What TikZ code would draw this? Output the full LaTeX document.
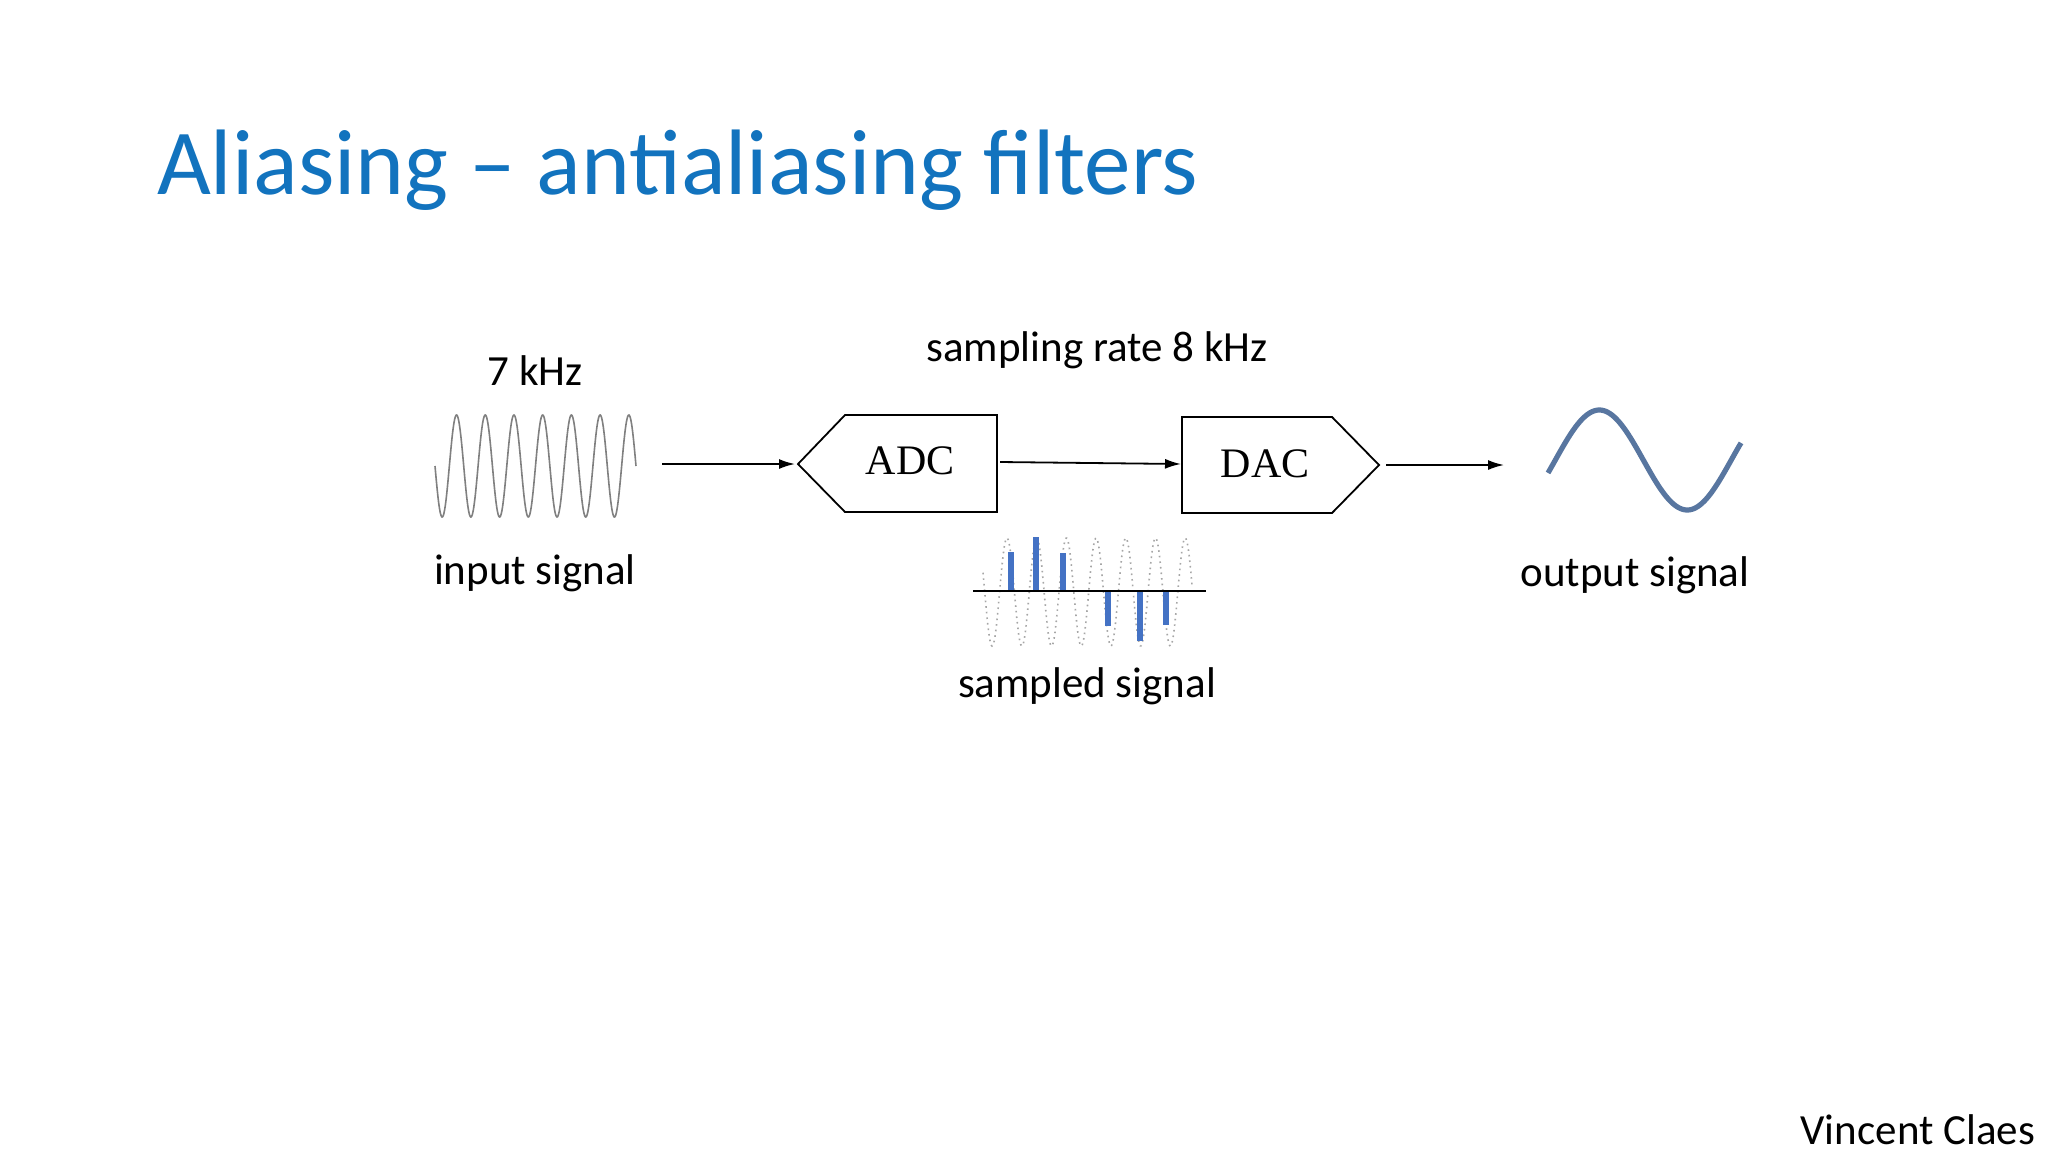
\documentclass[tikz,border=0pt]{standalone}
\usepackage{fontspec}
\setmainfont{Carlito}
\newfontfamily\serifb{Liberation Serif}
\usetikzlibrary{arrows.meta}
\definecolor{ttl}{RGB}{18,115,190}
\definecolor{barc}{RGB}{68,114,196}
\definecolor{outc}{RGB}{88,118,160}
\begin{document}
\begin{tikzpicture}[x=0.5pt,y=-0.5pt,
  lbl/.style={font=\fontsize{21.5}{24}\selectfont},
  blk/.style={draw,line width=0.9pt,font=\serifb\fontsize{21}{24}\selectfont},
  arr/.style={line width=0.9pt,-{Latex[length=8pt,width=5pt]}},
  bar/.style={fill=barc}]
\useasboundingbox (0,0) rectangle (2048,1152);
\fill[white] (0,0) rectangle (2048,1152);
\node[anchor=west,text=ttl,font=\fontsize{46.5}{50}\selectfont] (title) at (150,170) {Aliasing -- antialiasing filters};
\node[lbl] (f7) at (535,371) {7 kHz};
\node[lbl] (sr) at (1097,350) {sampling rate 8 kHz};
\node[lbl] (in) at (535,573) {input signal};
\node[lbl] (out) at (1635,575) {output signal};
\node[lbl] (smp) at (1087,686) {sampled signal};
\node[lbl,anchor=east] (auth) at (2042,1130) {Vincent Claes};
% input wave
\draw[gray,line width=0.8pt,domain=0:2520,samples=400,smooth] plot ({435+\x/2520*201},{466+51*sin(\x)});
\coordinate (inR) at (662,464);
% ADC
\draw[blk] (798,464) -- (845,415) -- (997,415) -- (997,512) -- (845,512) -- cycle;
\node[font=\serifb\fontsize{21}{24}\selectfont] (adc) at (910,461) {ADC};
\coordinate (adcL) at (795,464);
\coordinate (adcR) at (1000,462);
% DAC
\draw[blk] (1182,417) -- (1332,417) -- (1379,465) -- (1332,513) -- (1182,513) -- cycle;
\node[font=\serifb\fontsize{21}{24}\selectfont] (dac) at (1265,464) {DAC};
\coordinate (dacL) at (1181,464);
\coordinate (dacR) at (1386,465);
\coordinate (outL) at (1504,465);
\draw[arr] (inR) -- (adcL);
\draw[arr] (adcR) -- (dacL);
\draw[arr] (dacR) -- (outL);
% output wave
\draw[outc,line width=2.6pt,domain=-15:380,samples=150,smooth] plot ({1548+(\x+15)/395*193},{460-50*sin(\x)});
% sampled signal
\draw[gray!70,dotted,line width=0.8pt,domain=0:209,samples=300,smooth] plot ({983+\x},{592-54*cos(12.121*(\x-24))});
\foreach \xx/\yy in {1011/552,1036/537,1063/553,1108/626,1140/641,1166/625}
  \fill[bar] (\xx-3,591) rectangle (\xx+3,\yy);
\draw[line width=1.2pt] (973,591) -- (1206,591);
\end{tikzpicture}
\end{document}
